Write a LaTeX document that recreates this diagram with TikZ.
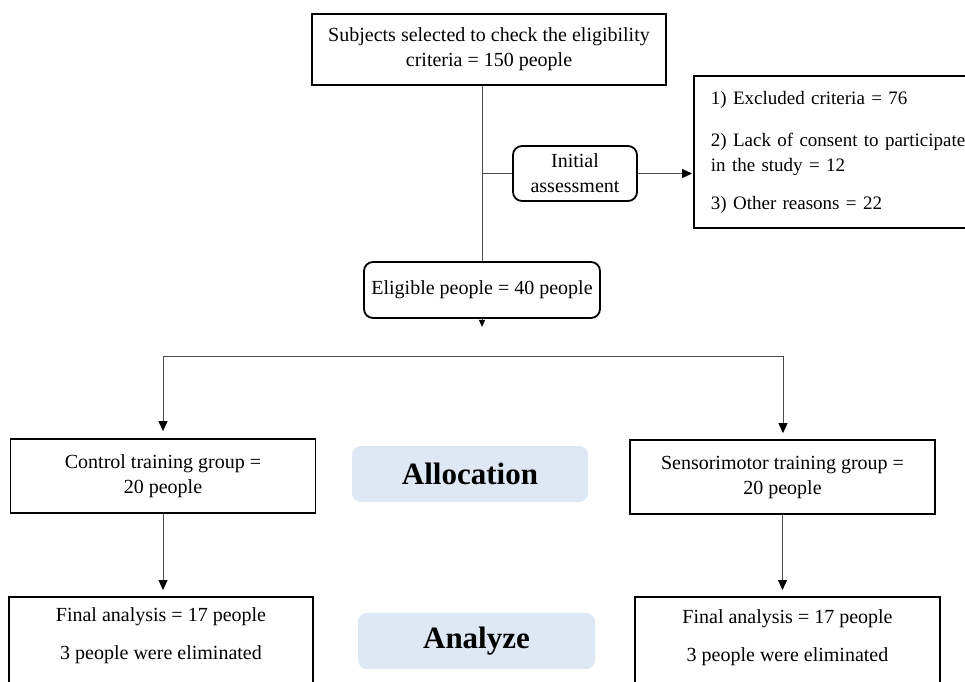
\documentclass[tikz,border=0pt]{standalone}
\usepackage{fontspec}
\setmainfont{Liberation Serif}
\usetikzlibrary{arrows.meta}
\definecolor{allocblue}{RGB}{222,232,244}
\begin{document}
\begin{tikzpicture}[x=1pt,y=-1pt,
  font=\fontsize{20}{25}\selectfont,
  box/.style={draw=black,line width=1.8pt,rectangle,inner sep=0pt,align=center},
  rbox/.style={box,rounded corners=9pt},
  tag/.style={fill=allocblue,rounded corners=9pt,inner sep=0pt,font=\fontsize{31}{36}\selectfont\bfseries},
  conn/.style={draw=black!70,line width=1pt},
  arr/.style={conn,-{Triangle[length=10pt,width=9pt,color=black]}},
]
\useasboundingbox (0,0) rectangle (965,681);
\fill[white] (0,0) rectangle (965,681);
\clip (0,0) rectangle (965,681);

\node[box,minimum width=354pt,minimum height=71pt] (top) at (489,49.5)
  {Subjects selected to check the eligibility\\criteria = 150 people};
\node[rbox,minimum width=124pt,minimum height=55pt] (init) at (575,173.5)
  {Initial\\assessment};
\node[box,anchor=west,minimum height=152pt,text width=300pt,align=left,inner xsep=17pt,
      font=\fontsize{19}{25}\selectfont] (excl) at (693,152)
  {1) Excluded criteria = 76\\[17pt]2) Lack of consent to participate\\in the study = 12\\[13pt]3) Other reasons = 22};
\node[rbox,minimum width=236pt,minimum height=56pt] (elig) at (482,290)
  {Eligible people = 40 people};

\node[tag,minimum width=236pt,minimum height=56pt] (alloc) at (470,474) {Allocation};
\node[tag,minimum width=237pt,minimum height=56pt] (anal) at (476.5,641) {Analyze};

\node[box,minimum width=305pt,minimum height=74pt] (gA) at (163,476)
  {Control training group =\\20 people};
\node[box,minimum width=305pt,minimum height=74pt] (gB) at (782.5,477)
  {Sensorimotor training group =\\20 people};

\node[box,anchor=north,minimum width=304pt,inner ysep=11pt] (fA) at (161,596)
  {Final analysis = 17 people\\[13pt]3 people were eliminated\rule[-32pt]{0pt}{32pt}};
\node[box,anchor=north,minimum width=305pt,inner ysep=13pt] (fB) at (787.5,596)
  {Final analysis = 17 people\\[13pt]3 people were eliminated\rule[-32pt]{0pt}{32pt}};

\draw[conn] (elig.north |- top.south) -- (elig.north);
\coordinate (j) at (elig.north |- init.west);
\draw[conn] (j) -- (init.west);
\draw[arr,shorten >=1pt] (init.east) -- (init.east -| excl.west);
\draw[conn,-{Triangle[length=7pt,width=6pt,color=black]}] (elig.south) -- ++(0,8);

\coordinate (sL) at (163,356);
\coordinate (sR) at (783,356);
\draw[conn] (sL) -- (sR);
\draw[arr,shorten >=7pt] (sL) -- (sL |- gA.north);
\draw[arr,shorten >=6pt] (sR) -- (sR |- gB.north);
\draw[arr,shorten >=6pt] (gA.south) -- (gA.south |- fA.north);
\draw[arr,shorten >=6pt] (gB.south) -- (gB.south |- fB.north);
\end{tikzpicture}
\end{document}
